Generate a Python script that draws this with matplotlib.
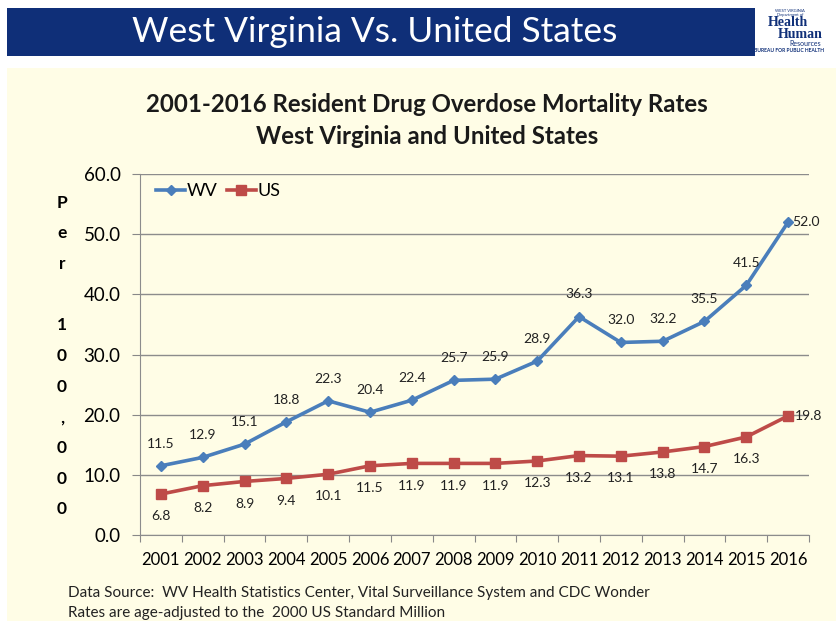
import numpy as np
import matplotlib.pyplot as plt
from matplotlib.patches import Rectangle

years = ['2001', '2002', '2003', '2004', '2005', '2006', '2007', '2008',
         '2009', '2010', '2011', '2012', '2013', '2014', '2015', '2016']
wv_rates = [11.5, 12.9, 15.1, 18.8, 22.3, 20.4, 22.4, 25.7,
            25.9, 28.9, 36.3, 32.0, 32.2, 35.5, 41.5, 52.0]
us_rates = [6.8, 8.2, 8.9, 9.4, 10.1, 11.5, 11.9, 11.9,
            11.9, 12.3, 13.2, 13.1, 13.8, 14.7, 16.3, 19.8]
y_ticks = [0, 10, 20, 30, 40, 50, 60]

cream = '#fffde6'
navy = '#0f2f78'
blue = '#4a7ebb'
red = '#be4b48'
font = 'Lato'

fig = plt.figure(figsize=(8.36, 6.21), dpi=100)
fig.patch.set_facecolor('white')

# slide background and banner
fig.patches.append(Rectangle((7/836, 0), 829/836, 1 - 68/621, transform=fig.transFigure,
                             facecolor=cream, edgecolor='none', zorder=-10))
fig.patches.append(Rectangle((7/836, 1 - 56/621), 748/836, 48/621, transform=fig.transFigure,
                             facecolor=navy, edgecolor='none', zorder=-10))
fig.text(375/836, 1 - 32/621, 'West Virginia Vs. United States', color='white',
         fontsize=25.4, family=font, ha='center', va='center')

# logo (text only)
fig.text(790/836, 1 - 9/621, 'WEST VIRGINIA\nDepartment of', color=navy, fontsize=3,
         family=font, ha='center', va='top', linespacing=1.0)
fig.text(788/836, 1 - 23/621, 'Health', color=navy, fontsize=10, family='Liberation Serif',
         weight='bold', ha='center', va='center')
fig.text(800/836, 1 - 35/621, 'Human', color=navy, fontsize=10, family='Liberation Serif',
         weight='bold', ha='center', va='center')
fig.text(805/836, 1 - 44/621, 'Resources', color=navy, fontsize=5, family=font,
         ha='center', va='center')
fig.text(754/836, 1 - 50/621, 'BUREAU FOR PUBLIC HEALTH', color=navy, fontsize=3.6,
         family=font, weight='bold', ha='left', va='center')

# chart title
fig.text(427/836, 1 - 104/621, '2001-2016 Resident Drug Overdose Mortality Rates',
         fontsize=17.3, weight='bold', family=font, ha='center', va='center', color='#1a1a1a')
fig.text(427/836, 1 - 137/621, 'West Virginia and United States',
         fontsize=17.3, weight='bold', family=font, ha='center', va='center', color='#1a1a1a')

ax = fig.add_axes([140/836, 86/621, 669/836, 361/621])
ax.set_facecolor(cream)
x = np.arange(len(years))

ax.plot(x, wv_rates, color=blue, lw=2.6, marker='D', ms=5, label='WV', zorder=3)
ax.plot(x, us_rates, color=red, lw=2.6, marker='s', ms=7, label='US', zorder=3)

for i, v in enumerate(wv_rates):
    if i == len(wv_rates) - 1:
        ax.annotate(f'{v:.1f}', (i, v), xytext=(3, 0), textcoords='offset points',
                    ha='left', va='center', fontsize=10, family=font, color='#222222')
    else:
        ax.annotate(f'{v:.1f}', (i, v), xytext=(0, 16), textcoords='offset points',
                    ha='center', va='center', fontsize=10, family=font, color='#222222')
for i, v in enumerate(us_rates):
    if i == len(us_rates) - 1:
        ax.annotate(f'{v:.1f}', (i, v), xytext=(5, 0), textcoords='offset points',
                    ha='left', va='center', fontsize=10, family=font, color='#222222')
    else:
        ax.annotate(f'{v:.1f}', (i, v), xytext=(0, -16), textcoords='offset points',
                    ha='center', va='center', fontsize=10, family=font, color='#222222')

ax.set_xlim(-0.5, len(years) - 0.5)
ax.set_ylim(0, 60)
ax.set_yticks(y_ticks)
ax.set_yticklabels([f'{t:.1f}' for t in y_ticks], fontsize=13.5, family=font)
ax.set_xticks(np.arange(-0.5, len(years)), labels=[])
ax.set_xticks(x, minor=True)
ax.set_xticklabels(years, minor=True, fontsize=12, family=font)
ax.tick_params(axis='x', which='major', length=5, color='#888888', direction='out')
ax.tick_params(axis='x', which='minor', length=0, pad=12)
ax.tick_params(axis='y', length=6, color='#888888', pad=8)
ax.grid(axis='y', color='#8c8c8c', lw=1)
ax.set_axisbelow(True)
for s in ['top', 'right']:
    ax.spines[s].set_visible(False)
for s in ['left', 'bottom']:
    ax.spines[s].set_color('#8c8c8c')

leg = ax.legend(loc='upper left', ncol=2, frameon=False, handlelength=1.6,
                handletextpad=0.1, columnspacing=0.5, bbox_to_anchor=(0.0, 1.02),
                prop={'family': font, 'size': 13})

# vertical y label, one character per line
fig.text(62/836, 1 - 356/621, '\n'.join('Per 100,000'), fontsize=12.5, weight='bold',
         family=font, ha='center', va='center', linespacing=2.13)

fig.text(68/836, 1 - 593/621,
         'Data Source:  WV Health Statistics Center, Vital Surveillance System and CDC Wonder',
         fontsize=11, family=font, ha='left', va='center', color='#222222')
fig.text(68/836, 1 - 613/621, 'Rates are age-adjusted to the  2000 US Standard Million',
         fontsize=11, family=font, ha='left', va='center', color='#222222')

fig.savefig('out.png', dpi=100, facecolor=fig.get_facecolor())
